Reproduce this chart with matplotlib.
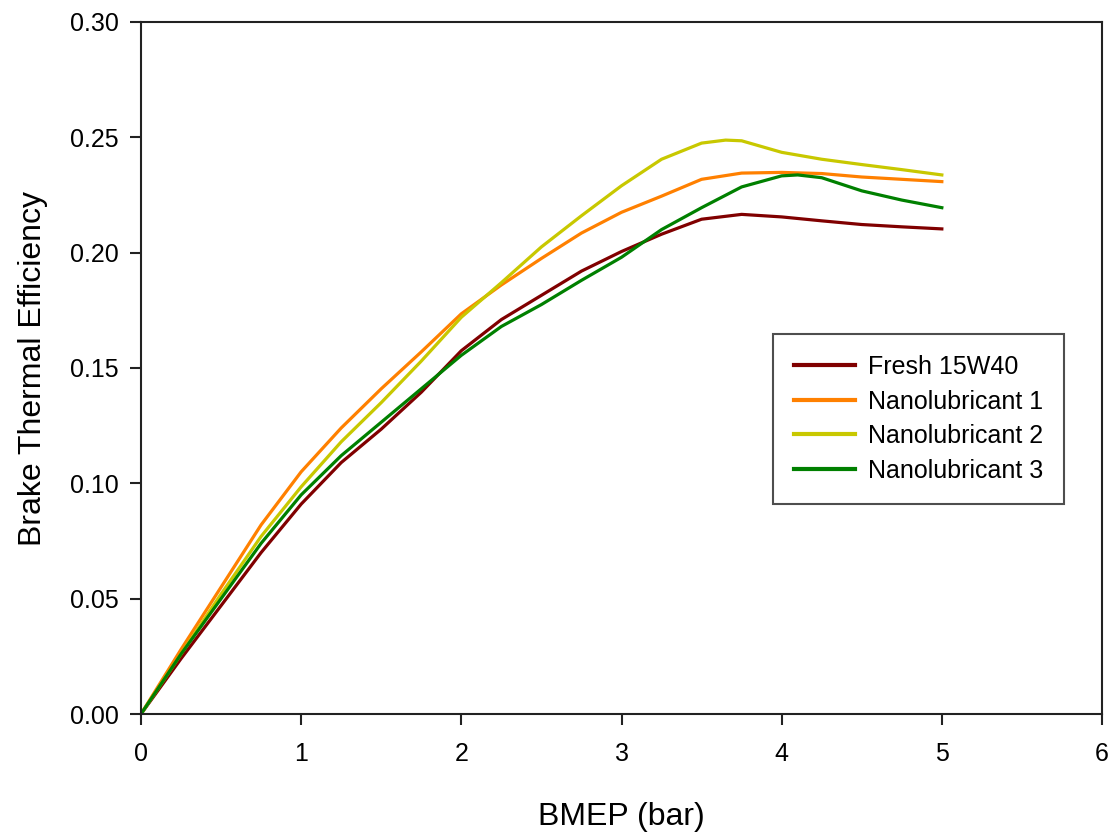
import matplotlib
matplotlib.use("Agg")
import matplotlib.pyplot as plt

plt.rcParams['font.family'] = ['Liberation Sans', 'DejaVu Sans']

# BMEP (bar) for each series
bmep_fresh = [0, 0.25, 0.5, 0.75, 1.0, 1.25, 1.5, 1.75, 2.0, 2.25, 2.5, 2.75,
              3.0, 3.25, 3.5, 3.75, 4.0, 4.25, 4.5, 4.75, 5.0]
bte_fresh = [0, 0.024, 0.047, 0.070, 0.091, 0.109, 0.1235, 0.1395, 0.1575, 0.171,
             0.1815, 0.192, 0.2005, 0.208, 0.2145, 0.2166, 0.2155, 0.2138, 0.2122,
             0.2112, 0.2103]

bmep_nano1 = [0, 0.25, 0.5, 0.75, 1.0, 1.25, 1.5, 1.75, 2.0, 2.25, 2.5, 2.75,
              3.0, 3.25, 3.5, 3.75, 4.0, 4.25, 4.5, 4.75, 5.0]
bte_nano1 = [0, 0.028, 0.055, 0.082, 0.105, 0.124, 0.141, 0.157, 0.1735, 0.186,
             0.1975, 0.2085, 0.2175, 0.2245, 0.2318, 0.2345, 0.2348, 0.2343, 0.2328,
             0.2318, 0.2308]

bmep_nano2 = [0, 0.25, 0.5, 0.75, 1.0, 1.25, 1.5, 1.75, 2.0, 2.25, 2.5, 2.75,
              3.0, 3.25, 3.5, 3.65, 3.75, 4.0, 4.25, 4.5, 4.75, 5.0]
bte_nano2 = [0, 0.026, 0.052, 0.077, 0.0985, 0.118, 0.135, 0.153, 0.172, 0.187,
             0.2025, 0.216, 0.229, 0.2405, 0.2475, 0.2488, 0.2485, 0.2435, 0.2405,
             0.2382, 0.2360, 0.2337]

bmep_nano3 = [0, 0.25, 0.5, 0.75, 1.0, 1.25, 1.5, 1.75, 2.0, 2.25, 2.5, 2.75,
              3.0, 3.25, 3.5, 3.75, 4.0, 4.1, 4.25, 4.5, 4.75, 5.0]
bte_nano3 = [0, 0.026, 0.050, 0.074, 0.095, 0.112, 0.1265, 0.141, 0.1555, 0.168,
             0.1775, 0.188, 0.198, 0.210, 0.2195, 0.2285, 0.2333, 0.2337, 0.2325,
             0.2268, 0.2228, 0.2195]

labels = ["Fresh 15W40", "Nanolubricant 1", "Nanolubricant 2", "Nanolubricant 3"]
colors = ["#800000", "#FF8000", "#C8C800", "#008000"]

x_ticks = [0, 1, 2, 3, 4, 5, 6]
y_ticks = [0.00, 0.05, 0.10, 0.15, 0.20, 0.25, 0.30]

fig = plt.figure(figsize=(11.12, 8.34), dpi=100)
ax = fig.add_axes([141 / 1112, 120 / 834, (1102 - 141) / 1112, (714 - 22) / 834])

series = [(bmep_fresh, bte_fresh), (bmep_nano1, bte_nano1),
          (bmep_nano2, bte_nano2), (bmep_nano3, bte_nano3)]
for (xs, ys), lab, col in zip(series, labels, colors):
    ax.plot(xs, ys, color=col, lw=2.3, label=lab, solid_joinstyle='round')

ax.set_xlim(0, 6)
ax.set_ylim(0, 0.30)
ax.set_xticks(x_ticks)
ax.set_xticklabels([str(t) for t in x_ticks])
ax.set_yticks(y_ticks)
ax.set_yticklabels([f"{t:.2f}" for t in y_ticks])

for s in ax.spines.values():
    s.set_linewidth(1.5)
    s.set_color("#222222")

ax.tick_params(axis='both', direction='out', length=8, width=1.5, color="#222222",
               labelsize=18, top=False, right=False)
ax.tick_params(axis='x', pad=12)
ax.tick_params(axis='y', pad=8)

ax.set_xlabel("BMEP (bar)", fontsize=23, labelpad=26)
ax.set_ylabel("Brake Thermal Efficiency", fontsize=23, labelpad=16)

leg = ax.legend(loc='upper left', bbox_to_anchor=(773 / 1112, 1 - 334 / 834),
                bbox_transform=fig.transFigure, fontsize=18, frameon=True,
                fancybox=False, shadow=False, borderpad=0.85, handlelength=2.44,
                handletextpad=0.5, labelspacing=0.42, borderaxespad=0)
leg.get_frame().set_edgecolor("#222222")
leg.get_frame().set_linewidth(1.5)
for line in leg.get_lines():
    line.set_linewidth(3)

fig.savefig("out.png", dpi=100)
